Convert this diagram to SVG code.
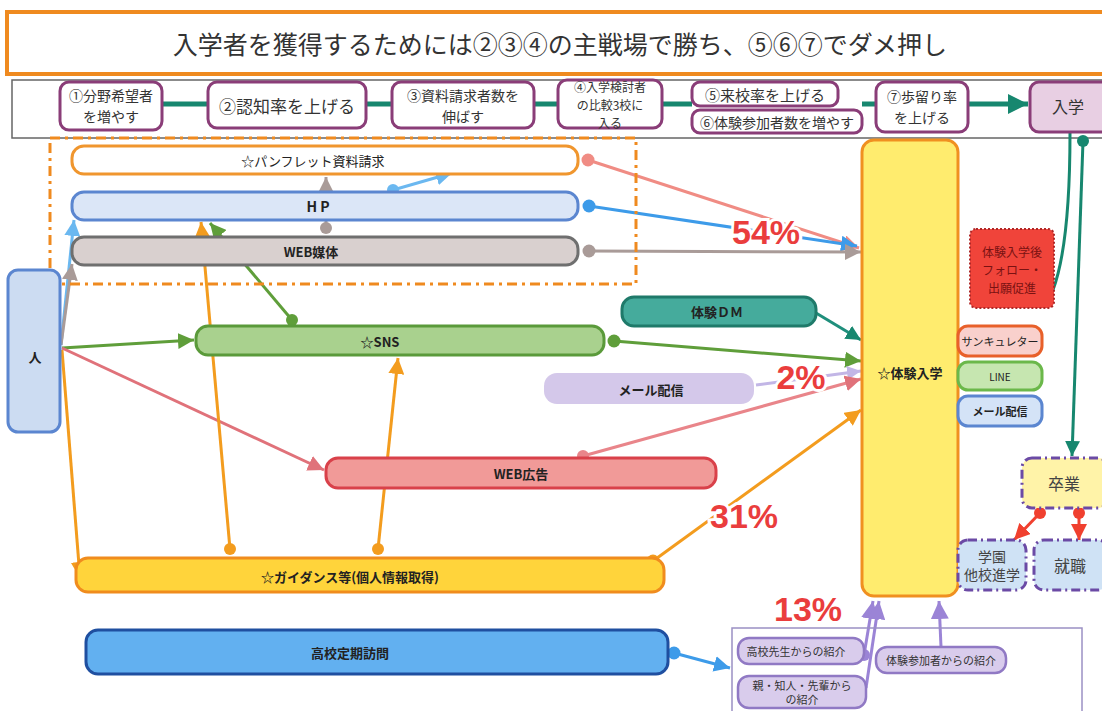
<svg xmlns="http://www.w3.org/2000/svg" width="1102" height="711" viewBox="0 0 1102 711">
<defs>
<style>
text{font-family:"Noto Sans CJK JP","Noto Sans",sans-serif;text-anchor:middle;dominant-baseline:central;fill:#222}
.step rect{fill:#fff;stroke:#8a3d78;stroke-width:3}
.step text{font-size:15px;fill:#333}
.step text.two{font-size:14px}
.bar text{font-size:13px;font-weight:bold}
.pct{font-size:34px;font-weight:bold;fill:#ea3d3d;stroke:#fff;stroke-width:6;paint-order:stroke;font-family:"Liberation Sans",sans-serif}
.ln{fill:none;stroke-width:3}
.dash{stroke:#6b4aa5;stroke-width:3;stroke-dasharray:9,4,2,4}
.side text{font-size:11px}
.ref rect{fill:#d9ccec;stroke:#9079c4;stroke-width:2.5}
.ref text{font-size:11px;fill:#333}
</style>
<marker id="mTeal" viewBox="0 0 10 10" refX="10" refY="5" markerWidth="20" markerHeight="20" markerUnits="userSpaceOnUse" orient="auto"><path d="M0,0 L10,5 L0,10 z" fill="#17876f"/></marker>
<marker id="mTealS" viewBox="0 0 10 10" refX="10" refY="5" markerWidth="15" markerHeight="15" markerUnits="userSpaceOnUse" orient="auto"><path d="M0,0 L10,5 L0,10 z" fill="#17876f"/></marker>
<marker id="mGreen" viewBox="0 0 10 10" refX="10" refY="5" markerWidth="16" markerHeight="16" markerUnits="userSpaceOnUse" orient="auto"><path d="M0,0 L10,5 L0,10 z" fill="#5f9e3a"/></marker>
<marker id="mPink" viewBox="0 0 10 10" refX="10" refY="5" markerWidth="16" markerHeight="16" markerUnits="userSpaceOnUse" orient="auto"><path d="M0,0 L10,5 L0,10 z" fill="#e0727a"/></marker>
<marker id="mOrange" viewBox="0 0 10 10" refX="10" refY="5" markerWidth="16" markerHeight="16" markerUnits="userSpaceOnUse" orient="auto"><path d="M0,0 L10,5 L0,10 z" fill="#f39c1e"/></marker>
<marker id="mBlue" viewBox="0 0 10 10" refX="10" refY="5" markerWidth="16" markerHeight="16" markerUnits="userSpaceOnUse" orient="auto"><path d="M0,0 L10,5 L0,10 z" fill="#3d9be9"/></marker>
<marker id="mLBlue" viewBox="0 0 10 10" refX="10" refY="5" markerWidth="16" markerHeight="16" markerUnits="userSpaceOnUse" orient="auto"><path d="M0,0 L10,5 L0,10 z" fill="#6bb8f0"/></marker>
<marker id="mGray" viewBox="0 0 10 10" refX="10" refY="5" markerWidth="16" markerHeight="16" markerUnits="userSpaceOnUse" orient="auto"><path d="M0,0 L10,5 L0,10 z" fill="#a99b98"/></marker>
<marker id="mSalmon" viewBox="0 0 10 10" refX="10" refY="5" markerWidth="16" markerHeight="16" markerUnits="userSpaceOnUse" orient="auto"><path d="M0,0 L10,5 L0,10 z" fill="#f08c84"/></marker>
<marker id="mPurple" viewBox="0 0 10 10" refX="10" refY="5" markerWidth="18" markerHeight="18" markerUnits="userSpaceOnUse" orient="auto"><path d="M0,0 L10,5 L0,10 z" fill="#9b84d6"/></marker>
<marker id="mLPurple" viewBox="0 0 10 10" refX="10" refY="5" markerWidth="14" markerHeight="14" markerUnits="userSpaceOnUse" orient="auto"><path d="M0,0 L10,5 L0,10 z" fill="#c2b6e6"/></marker>
<marker id="mRed" viewBox="0 0 10 10" refX="10" refY="5" markerWidth="16" markerHeight="16" markerUnits="userSpaceOnUse" orient="auto"><path d="M0,0 L10,5 L0,10 z" fill="#f0402f"/></marker>
</defs>
<rect width="1102" height="711" fill="#fff"/>

<g id="banner">
<rect x="7" y="12" width="1100" height="62" fill="#fff" stroke="#ef8a1f" stroke-width="4"/>
<text x="560" y="43" style="font-size:25px;fill:#333">入学者を獲得するためには②③④の主戦場で勝ち、⑤⑥⑦でダメ押し</text>
</g>

<g id="steprow">
<rect x="12" y="80" width="1092" height="58" fill="#fff" stroke="#666" stroke-width="1.5"/>
</g>

<g id="connectors">
<g stroke="#17876f" stroke-width="5" fill="none">
<line x1="162" y1="104" x2="208" y2="104"/>
<line x1="366" y1="104" x2="392" y2="104"/>
<line x1="534" y1="104" x2="558" y2="104"/>
<line x1="662" y1="104" x2="692" y2="104"/>
<line x1="862" y1="104" x2="876" y2="104"/>
<line x1="968" y1="104" x2="1028" y2="104" marker-end="url(#mTeal)"/>
</g>
<path class="ln" d="M1070,133 C1070,200 1066,255 1053,290" stroke="#17876f"/>
<line class="ln" x1="1083" y1="141" x2="1072" y2="456" stroke="#17876f" marker-end="url(#mTealS)"/>
<circle cx="1083" cy="141" r="6" fill="#17876f"/>

<line class="ln" x1="61" y1="345" x2="74" y2="220" stroke="#6bb8f0" marker-end="url(#mLBlue)"/>
<line class="ln" x1="61" y1="345" x2="72" y2="264" stroke="#a99b98" marker-end="url(#mGray)"/>
<line class="ln" x1="62" y1="348" x2="194" y2="340" stroke="#5f9e3a" stroke-width="4" marker-end="url(#mGreen)"/>
<line class="ln" x1="62" y1="348" x2="324" y2="470" stroke="#e0727a" stroke-width="4" marker-end="url(#mPink)"/>
<line class="ln" x1="62" y1="350" x2="80" y2="578" stroke="#f39c1e" marker-end="url(#mOrange)"/>

<line class="ln" x1="230" y1="549" x2="201" y2="222" stroke="#f39c1e" marker-end="url(#mOrange)"/>
<circle cx="230" cy="549" r="6" fill="#f39c1e"/>
<line class="ln" x1="378" y1="549" x2="398" y2="358" stroke="#f39c1e" marker-end="url(#mOrange)"/>
<circle cx="378" cy="549" r="6" fill="#f39c1e"/>

<line class="ln" x1="292" y1="320" x2="210" y2="223" stroke="#5f9e3a" marker-end="url(#mGreen)"/>
<circle cx="292" cy="320" r="6" fill="#5f9e3a"/>
<line class="ln" x1="326" y1="228" x2="326" y2="177" stroke="#a99b98" marker-end="url(#mGray)"/>
<circle cx="326" cy="228" r="6" fill="#a99b98"/>
<line class="ln" x1="393" y1="190" x2="452" y2="173" stroke="#6bb8f0" marker-end="url(#mLBlue)"/>
<circle cx="393" cy="190" r="6" fill="#6bb8f0"/>

<line class="ln" x1="588" y1="160" x2="859" y2="248" stroke="#f08c84" marker-end="url(#mSalmon)"/>
<circle cx="588" cy="160" r="6.5" fill="#f08c84"/>
<line class="ln" x1="589" y1="206" x2="857" y2="246" stroke="#3d9be9" marker-end="url(#mBlue)"/>
<circle cx="589" cy="206" r="6.5" fill="#3d9be9"/>
<line class="ln" x1="589" y1="251" x2="861" y2="252" stroke="#a99b98" marker-end="url(#mGray)"/>
<circle cx="589" cy="251" r="6.5" fill="#a99b98"/>
<line class="ln" x1="816" y1="313" x2="861" y2="340" stroke="#1f8f7c" marker-end="url(#mTealS)"/>
<line class="ln" x1="614" y1="341" x2="861" y2="361" stroke="#5f9e3a" marker-end="url(#mGreen)"/>
<circle cx="614" cy="341" r="6.5" fill="#5f9e3a"/>
<line class="ln" x1="756" y1="385" x2="861" y2="371" stroke="#c2b6e6" marker-end="url(#mLPurple)"/>
<line class="ln" x1="583" y1="456" x2="861" y2="379" stroke="#e9858a" marker-end="url(#mPink)"/>
<circle cx="583" cy="456" r="6" fill="#e9858a"/>
<line class="ln" x1="653" y1="561" x2="861" y2="410" stroke="#f39c1e" marker-end="url(#mOrange)"/>
<circle cx="653" cy="561" r="6.5" fill="#f39c1e"/>
<line class="ln" x1="674" y1="653" x2="730" y2="668" stroke="#3d9be9" marker-end="url(#mBlue)"/>
<circle cx="674" cy="653" r="6.5" fill="#3d9be9"/>

<line class="ln" x1="864" y1="655" x2="873" y2="601" stroke="#9b84d6" marker-end="url(#mPurple)"/>
<circle cx="864" cy="655" r="6" fill="#9b84d6"/>
<line class="ln" x1="866" y1="688" x2="879" y2="601" stroke="#9b84d6" marker-end="url(#mPurple)"/>
<line class="ln" x1="941" y1="647" x2="939" y2="601" stroke="#9b84d6" marker-end="url(#mPurple)"/>

<line class="ln" x1="1040" y1="513" x2="1014" y2="540" stroke="#f0402f" marker-end="url(#mRed)"/>
<circle cx="1040" cy="513" r="6" fill="#f0402f"/>
<line class="ln" x1="1079" y1="513" x2="1079" y2="540" stroke="#f0402f" marker-end="url(#mRed)"/>
<circle cx="1079" cy="513" r="6" fill="#f0402f"/>
</g>

<g id="web-group">
<rect x="50" y="138" width="586" height="146" fill="none" stroke="#ef8a1f" stroke-width="3" stroke-dasharray="10,5,3,5"/>
</g>

<g class="step" id="s1"><rect x="60" y="82" width="102" height="48" rx="9"/><text class="two" x="111" y="95">①分野希望者</text><text class="two" x="111" y="116">を増やす</text></g>
<g class="step" id="s2"><rect x="208" y="82" width="158" height="46" rx="9"/><text x="287" y="105" style="font-size:17px">②認知率を上げる</text></g>
<g class="step" id="s3"><rect x="392" y="82" width="142" height="46" rx="9"/><text class="two" x="463" y="95">③資料請求者数を</text><text class="two" x="463" y="116">伸ばす</text></g>
<g class="step" id="s4"><rect x="558" y="80" width="104" height="48" rx="9"/><text x="610" y="86" style="font-size:12px">④入学検討者</text><text x="610" y="104" style="font-size:12px">の比較3校に</text><text x="610" y="122" style="font-size:12px">入る</text></g>
<g class="step" id="s5"><rect x="692" y="82" width="146" height="24" rx="8"/><text x="765" y="94">⑤来校率を上げる</text></g>
<g class="step" id="s6"><rect x="692" y="110" width="170" height="23" rx="8"/><text x="777" y="122" style="font-size:14px">⑥体験参加者数を増やす</text></g>
<g class="step" id="s7"><rect x="876" y="82" width="92" height="50" rx="9"/><text class="two" x="922" y="96">⑦歩留り率</text><text class="two" x="922" y="117">を上げる</text></g>
<g class="step" id="s8"><rect x="1030" y="82" width="80" height="50" rx="9" style="fill:#e8cfe3"/><text x="1068" y="106" style="font-size:16px">入学</text></g>

<g class="bar" id="pamphlet"><rect x="72" y="146" width="506" height="28" rx="12" fill="#fff" stroke="#f0962e" stroke-width="3"/><text x="313" y="160" style="font-weight:normal">☆パンフレット資料請求</text></g>
<g class="bar" id="hp"><rect x="72" y="192" width="506" height="28" rx="12" fill="#dbe6f7" stroke="#5b86d0" stroke-width="3"/><text x="318" y="206" style="font-size:14px">H P</text></g>
<g class="bar" id="webmedia"><rect x="72" y="237" width="506" height="28" rx="12" fill="#d9d0cf" stroke="#6f6f6f" stroke-width="3"/><text x="311" y="251">WEB媒体</text></g>

<g class="bar" id="person"><rect x="8" y="270" width="52" height="162" rx="10" fill="#ccdcf2" stroke="#5b86d0" stroke-width="3"/><text x="35" y="356">人</text></g>
<g class="bar" id="sns"><rect x="196" y="326" width="408" height="29" rx="12" fill="#a9d18e" stroke="#5a9a3a" stroke-width="3"/><text x="380" y="341">☆SNS</text></g>
<g class="bar" id="dm"><rect x="622" y="297" width="194" height="29" rx="12" fill="#45ab9c" stroke="#1f7a6a" stroke-width="3"/><text x="717" y="311">体験ＤＭ</text></g>
<g class="bar" id="mail"><rect x="544" y="373" width="210" height="31" rx="13" fill="#d4c8ea"/><text x="651" y="389">メール配信</text></g>
<g class="bar" id="webad"><rect x="326" y="458" width="390" height="30" rx="12" fill="#f19a98" stroke="#d9414a" stroke-width="3"/><text x="521" y="473">WEB広告</text></g>
<g class="bar" id="guidance"><rect x="76" y="558" width="588" height="34" rx="12" fill="#ffd43b" stroke="#f08c1e" stroke-width="3"/><text x="350" y="576">☆ガイダンス等(個人情報取得)</text></g>
<g class="bar" id="visit"><rect x="86" y="630" width="582" height="44" rx="12" fill="#62b0f0" stroke="#1f4fa0" stroke-width="3"/><text x="350" y="652">高校定期訪問</text></g>

<g class="bar" id="trial"><rect x="862" y="140" width="96" height="456" rx="12" fill="#ffec6e" stroke="#f09020" stroke-width="3"/><text x="910" y="372">☆体験入学</text></g>

<g id="follow"><rect x="970" y="229" width="84" height="79" rx="6" fill="#f0443a" stroke="#b02828" stroke-width="2" stroke-dasharray="2,2"/>
<text x="1012" y="251" style="font-size:12px;fill:#7a1212">体験入学後</text><text x="1012" y="269" style="font-size:12px;fill:#7a1212">フォロー・</text><text x="1012" y="287" style="font-size:12px;fill:#7a1212">出願促進</text></g>

<g class="side" id="letter"><rect x="958" y="326" width="84" height="30" rx="10" fill="#f9d0cc" stroke="#e8602a" stroke-width="3"/><text x="1000" y="341">サンキュレター</text></g>
<g class="side" id="line"><rect x="958" y="362" width="84" height="28" rx="10" fill="#c6e6b0" stroke="#6bb84a" stroke-width="3"/><text x="1000" y="376" style="font-size:10px">LINE</text></g>
<g class="side" id="mail2"><rect x="958" y="396" width="84" height="30" rx="10" fill="#d4e3f7" stroke="#5b86d0" stroke-width="3"/><text x="1000" y="411" style="font-weight:bold">メール配信</text></g>

<g id="graduate"><rect class="dash" x="1022" y="458" width="86" height="50" rx="10" fill="#fff3a8"/><text x="1064" y="483" style="font-size:16px;fill:#444">卒業</text></g>
<g id="further"><rect class="dash" x="958" y="540" width="68" height="50" rx="10" fill="#cfe2f5"/><text x="992" y="556" style="font-size:14px;fill:#444">学園</text><text x="992" y="574" style="font-size:14px;fill:#444">他校進学</text></g>
<g id="job"><rect class="dash" x="1034" y="540" width="74" height="50" rx="10" fill="#cfe2f5"/><text x="1070" y="565" style="font-size:16px;fill:#444">就職</text></g>

<g id="referrals">
<rect x="732" y="628" width="350" height="90" fill="none" stroke="#9b90c4" stroke-width="1.5"/>
</g>
<g class="ref" id="r1"><rect x="738" y="638" width="126" height="26" rx="11"/><text x="796" y="651">高校先生からの紹介</text></g>
<g class="ref" id="r2"><rect x="738" y="676" width="128" height="32" rx="11"/><text x="802" y="685">親・知人・先輩から</text><text x="802" y="699">の紹介</text></g>
<g class="ref" id="r3"><rect x="876" y="647" width="130" height="26" rx="11"/><text x="941" y="660">体験参加者からの紹介</text></g>

<g id="labels">
<text class="pct" x="766" y="232">54%</text>
<text class="pct" x="801" y="377">2%</text>
<text class="pct" x="744" y="516">31%</text>
<text class="pct" x="808" y="609">13%</text>
</g>
</svg>
